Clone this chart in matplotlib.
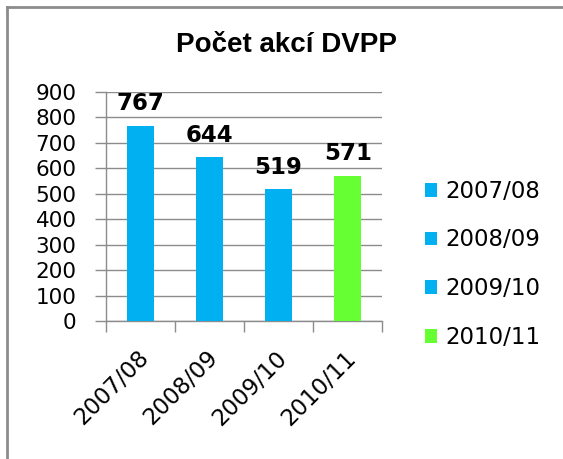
import matplotlib
matplotlib.use('Agg')
import matplotlib.pyplot as plt
import matplotlib.transforms as mtransforms
from matplotlib.lines import Line2D

seasons = ['2007/08', '2008/09', '2009/10', '2010/11']
counts = [767, 644, 519, 571]
colors = ['#00b0f0', '#00b0f0', '#00b0f0', '#66ff33']
title = 'Počet akcí DVPP'
yticks = [0, 100, 200, 300, 400, 500, 600, 700, 800, 900]

W, H = 563, 459
fig = plt.figure(figsize=(W / 100, H / 100), dpi=100)

# axes box, measured in pixels from the reference
ax = fig.add_axes([105.7 / W, 1 - 321 / H, (382.3 - 105.7) / W, (321 - 92) / H])

bars = []
for i, (s, v, c) in enumerate(zip(seasons, counts, colors)):
    b = ax.bar(i, v, width=0.39, color=c, label=s, zorder=3)
    bars.append(b)
    ax.bar_label(b, padding=7.5, fontsize=16.5, fontweight='bold',
                 family='DejaVu Sans')

ax.set_xlim(-0.5, len(seasons) - 0.5)
ax.set_ylim(0, 900)
ax.set_yticks(yticks)
ax.set_yticklabels([str(t) for t in yticks], fontsize=15.5, family='DejaVu Sans')
ax.yaxis.grid(True, color='#8c8c8c', linewidth=1, zorder=0)
ax.set_axisbelow(True)

# category boundary ticks on x, labels at centers
ax.set_xticks([i - 0.5 for i in range(len(seasons) + 1)])
ax.set_xticklabels([])
ax.set_xticks(range(len(seasons)), minor=True)
ax.set_xticklabels(seasons, minor=True, fontsize=16.5, family='DejaVu Sans',
                   rotation=45, ha='right', va='center', rotation_mode='anchor')
ax.tick_params(axis='x', which='minor', length=0, pad=24)
ax.tick_params(axis='x', which='major', length=8, color='#8c8c8c', width=1)
ax.tick_params(axis='y', length=8, color='#8c8c8c', width=1, pad=13)

shift = mtransforms.ScaledTranslation(5 / 100, 0, fig.dpi_scale_trans)
for lbl in ax.get_xticklabels(minor=True):
    lbl.set_transform(lbl.get_transform() + shift)

for side in ['top', 'right']:
    ax.spines[side].set_visible(False)
for side in ['left', 'bottom']:
    ax.spines[side].set_color('#8c8c8c')
    ax.spines[side].set_linewidth(1)

fig.text(287 / W, 1 - 45 / H, title, ha='center', va='center',
         fontsize=20, fontweight='bold', family='Liberation Sans')

leg = fig.legend(loc='center left', bbox_to_anchor=(425 / W, 1 - 264.3 / H),
                 frameon=False, prop={'family': 'DejaVu Sans', 'size': 16.5},
                 handlelength=0.54, handleheight=0.54, handletextpad=0.35,
                 labelspacing=1.12, borderpad=0, borderaxespad=0)

# outer chart frame (top and left edges visible)
fig.add_artist(Line2D([6.5 / W, 1], [1 - 7 / H, 1 - 7 / H], color='#8c8c8c', linewidth=2))
fig.add_artist(Line2D([6.5 / W, 6.5 / W], [0, 1 - 7 / H], color='#8c8c8c', linewidth=2))

fig.savefig('out.png', dpi=100)
